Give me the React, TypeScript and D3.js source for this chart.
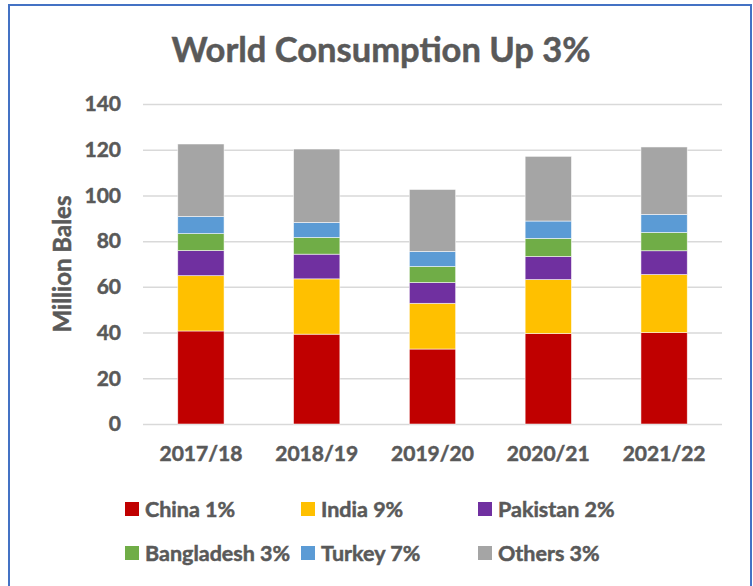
import React, { useEffect, useRef } from "react";
import * as d3 from "d3";

const seasons = ["2017/18", "2018/19", "2019/20", "2020/21", "2021/22"];
const china = [40.7, 39.3, 32.8, 39.6, 40.0];
const india = [24.2, 24.2, 20.0, 23.6, 25.4];
const pakistan = [11.0, 10.8, 9.1, 10.1, 10.4];
const bangladesh = [7.4, 7.3, 7.0, 7.9, 8.0];
const turkey = [7.5, 6.6, 6.6, 7.6, 7.9];
const others = [31.7, 32.1, 27.1, 28.3, 29.5];
const seriesNames = ["China 1%", "India 9%", "Pakistan 2%", "Bangladesh 3%", "Turkey 7%", "Others 3%"];
const seriesColors = ["#C00000", "#FFC000", "#7030A0", "#70AD47", "#5B9BD5", "#A5A5A5"];
const yTicks = [0, 20, 40, 60, 80, 100, 120, 140];

const width = 753;
const height = 586;
const margin = { top: 104, right: 31, bottom: 162, left: 143 };
const textColor = "#595959";
const font = "Lato, 'Open Sans', sans-serif";
// Calibri bold is heavier than Lato bold, so give the text a thin outline
const thick = { stroke: textColor, strokeWidth: 0.5 };

export default function App() {
  const xAxisRef = useRef<SVGGElement>(null);
  const yAxisRef = useRef<SVGGElement>(null);

  const keys = ["china", "india", "pakistan", "bangladesh", "turkey", "others"];
  const table = seasons.map((s, i) => ({
    season: s,
    china: china[i],
    india: india[i],
    pakistan: pakistan[i],
    bangladesh: bangladesh[i],
    turkey: turkey[i],
    others: others[i],
  }));
  const stacked = d3.stack<any>().keys(keys)(table);

  const xScale = d3
    .scaleBand()
    .domain(seasons)
    .range([margin.left, width - margin.right])
    .paddingInner(0.6)
    .paddingOuter(0.3);
  const yScale = d3
    .scaleLinear()
    .domain([0, 140])
    .range([height - margin.bottom, margin.top]);

  useEffect(() => {
    const yAxis = d3
      .axisLeft(yScale)
      .tickValues(yTicks)
      .tickSize(-(width - margin.left - margin.right))
      .tickPadding(22);
    const gy = d3.select(yAxisRef.current!);
    gy.call(yAxis);
    gy.select(".domain").remove();
    gy.selectAll(".tick line").attr("stroke", "#D9D9D9").attr("stroke-width", 1.5);
    gy.selectAll(".tick text")
      .attr("fill", textColor)
      .attr("stroke", textColor)
      .attr("stroke-width", 0.5)
      .style("font-family", font)
      .style("font-size", "21px")
      .style("font-weight", "bold");

    const xAxis = d3.axisBottom(xScale).tickSize(0).tickPadding(22);
    const gx = d3.select(xAxisRef.current!);
    gx.call(xAxis);
    gx.select(".domain").remove();
    gx.selectAll(".tick text")
      .attr("fill", textColor)
      .attr("stroke", textColor)
      .attr("stroke-width", 0.5)
      .style("font-family", font)
      .style("font-size", "21px")
      .style("font-weight", "bold");
  });

  const legendCols = [125, 301, 478];
  const legendRows = [509, 553];

  return (
    <svg
      width={width}
      height={height}
      style={{ position: "absolute", left: 0, top: 0, background: "#fff" }}
    >
      <rect x={9} y={5} width={742} height={600} fill="#fff" stroke="#4472C4" strokeWidth={2} />
      <text
        x={381}
        y={62}
        textAnchor="middle"
        fill={textColor}
        {...thick}
        style={{ fontFamily: font, fontSize: 34.5, fontWeight: "bold" }}
      >
        World Consumption Up 3%
      </text>
      <g ref={yAxisRef} transform={`translate(${margin.left}, 0)`} />
      <g ref={xAxisRef} transform={`translate(0, ${height - margin.bottom})`} />
      <text
        transform={`translate(71, ${(margin.top + height - margin.bottom) / 2}) rotate(-90)`}
        textAnchor="middle"
        fill={textColor}
        {...thick}
        style={{ fontFamily: font, fontSize: 24, fontWeight: "bold" }}
      >
        Million Bales
      </text>
      {stacked.map((layer, li) => (
        <g key={layer.key} fill={seriesColors[li]}>
          {layer.map((d, i) => (
            <rect
              key={i}
              x={xScale(seasons[i])}
              y={yScale(d[1])}
              width={xScale.bandwidth()}
              height={yScale(d[0]) - yScale(d[1])}
              stroke="#ffffff"
              strokeOpacity={0.7}
              strokeWidth={0.75}
            />
          ))}
        </g>
      ))}
      {seriesNames.map((name, i) => {
        const x = legendCols[i % 3];
        const y = legendRows[Math.floor(i / 3)];
        return (
          <g key={name}>
            <rect x={x} y={y - 7} width={14} height={14} fill={seriesColors[i]} />
            <text
              x={x + 20}
              y={y}
              dy="0.35em"
              fill={textColor}
              {...thick}
              style={{ fontFamily: font, fontSize: 21.5, fontWeight: "bold" }}
            >
              {name}
            </text>
          </g>
        );
      })}
    </svg>
  );
}
